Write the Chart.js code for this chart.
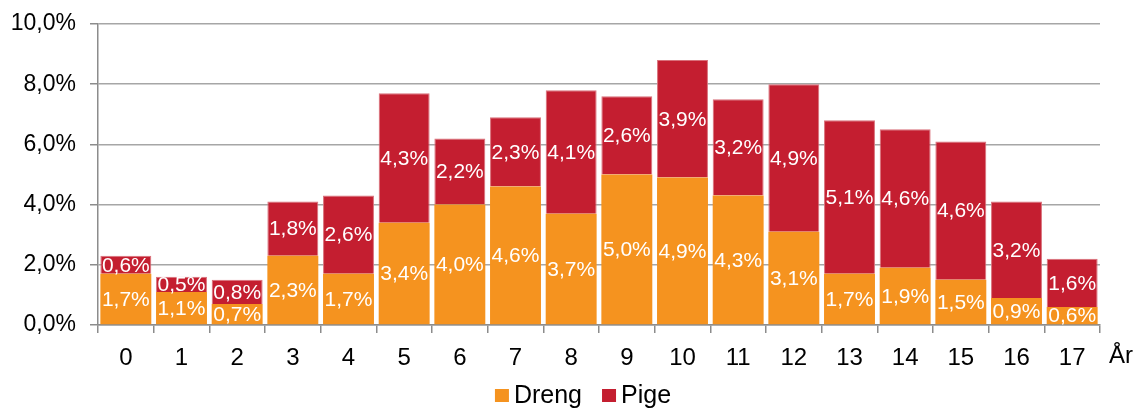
<!DOCTYPE html>
<html>
<head>
<meta charset="utf-8">
<script src="https://cdn.jsdelivr.net/npm/chart.js@4/dist/chart.umd.min.js"></script>
<style>
html,body{margin:0;padding:0;background:#fff;}
#wrap{width:1138px;height:409px;}
</style>
</head>
<body>
<div id="wrap"><canvas id="c" width="1138" height="409"></canvas></div>
<script>
const categories = ["0","1","2","3","4","5","6","7","8","9","10","11","12","13","14","15","16","17"];
const drengValues = [1.7,1.1,0.7,2.3,1.7,3.4,4.0,4.6,3.7,5.0,4.9,4.3,3.1,1.7,1.9,1.5,0.9,0.6];
const pigeValues  = [0.6,0.5,0.8,1.8,2.6,4.3,2.2,2.3,4.1,2.6,3.9,3.2,4.9,5.1,4.6,4.6,3.2,1.6];
const seriesNames = ["Dreng","Pige"];
const yTicks = [0,2,4,6,8,10];
const axisTitleX = "År";

const FONT = "'Liberation Sans', Arial, sans-serif";
const fmt = v => v.toFixed(1).replace('.', ',') + '%';

const labelPlugin = {
  id: 'barLabels',
  afterDatasetsDraw(chart) {
    const ctx = chart.ctx;
    ctx.save();
    ctx.fillStyle = '#ffffff';
    ctx.font = '21px ' + FONT;
    ctx.textAlign = 'center';
    ctx.textBaseline = 'middle';
    chart.data.datasets.forEach((ds, di) => {
      const meta = chart.getDatasetMeta(di);
      meta.data.forEach((bar, i) => {
        const top = Math.min(bar.y, bar.base), bot = Math.max(bar.y, bar.base);
        ctx.fillText(fmt(ds.data[i]), bar.x, (top + bot) / 2 + 1);
      });
    });
    ctx.restore();
  },
  afterDraw(chart) {
    const ctx = chart.ctx;
    const xs = chart.scales.x;
    ctx.save();
    // axis title "År"
    ctx.fillStyle = '#000';
    ctx.font = '24px ' + FONT;
    ctx.textAlign = 'left';
    ctx.textBaseline = 'alphabetic';
    ctx.fillText(axisTitleX, xs.right + 9, xs.top + 38);
    // legend
    ctx.font = '25px ' + FONT;
    const box = 14, gapText = 5, gapItem = 20;
    const items = chart.data.datasets.map(ds => ({ label: ds.label, color: ds.backgroundColor, w: ctx.measureText(ds.label).width }));
    let total = 0;
    items.forEach((it, i) => { total += box + gapText + it.w + (i ? gapItem : 0); });
    const center = (chart.chartArea.left + chart.chartArea.right) / 2 - 16;
    let x = center - total / 2;
    const baseline = chart.height - 6.5;
    items.forEach(it => {
      ctx.fillStyle = it.color;
      ctx.fillRect(x, baseline - 13.5, box, 13);
      x += box + gapText;
      ctx.fillStyle = '#000';
      ctx.fillText(it.label, x, baseline);
      x += it.w + gapItem;
    });
    ctx.restore();
  }
};

new Chart(document.getElementById('c'), {
  type: 'bar',
  data: {
    labels: categories,
    datasets: [
      { label: seriesNames[0], data: drengValues, backgroundColor: '#F5931F', borderWidth: 0, categoryPercentage: 1, barPercentage: 0.915 },
      { label: seriesNames[1], data: pigeValues, backgroundColor: '#C41E30', borderColor: '#D9707A', borderWidth: 1, borderSkipped: 'bottom', categoryPercentage: 1, barPercentage: 0.915 }
    ]
  },
  options: {
    responsive: false,
    animation: false,
    devicePixelRatio: 1,
    layout: { padding: { top: 24, right: 38, left: 0, bottom: 26 } },
    scales: {
      x: {
        stacked: true,
        grid: { display: true, offset: true, drawOnChartArea: false, drawTicks: true, tickLength: 8, color: '#8c8c8c', lineWidth: 1.5 },
        border: { display: true, color: '#8c8c8c', width: 1.5 },
        ticks: { color: '#000', font: { family: FONT, size: 24 }, padding: 10.6, maxRotation: 0 }
      },
      y: {
        stacked: true,
        min: 0, max: 10,
        afterFit(scale) { scale.width = 98; scale.paddingTop = 0; },
        afterBuildTicks(scale) { scale.ticks = yTicks.map(v => ({ value: v })); },
        grid: { color: '#a6a6a6', lineWidth: 1.5, drawTicks: true, tickLength: 8, tickColor: '#8c8c8c' },
        border: { display: true, color: '#8c8c8c', width: 1.5 },
        ticks: { color: '#000', font: { family: FONT, size: 23 }, padding: 14, callback: v => fmt(v) }
      }
    },
    plugins: {
      legend: { display: false },
      tooltip: { enabled: false }
    }
  },
  plugins: [labelPlugin]
});
</script>
</body>
</html>
